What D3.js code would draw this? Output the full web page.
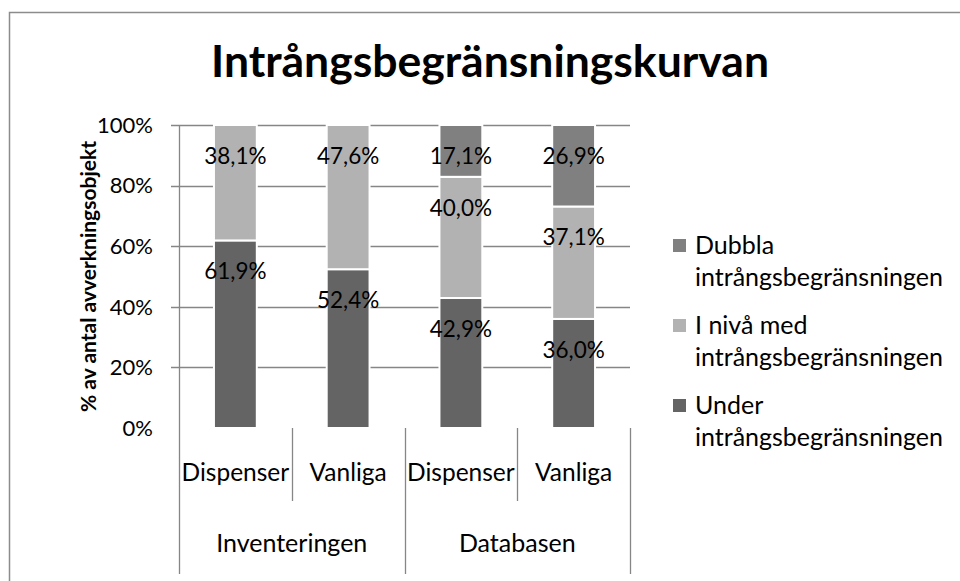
<!DOCTYPE html>
<html>
<head>
<meta charset="utf-8">
<script src="https://cdn.jsdelivr.net/npm/d3@7"></script>
<style>
  body { margin: 0; background: #fff; }
  svg text { font-family: Lato, 'Open Sans', sans-serif; fill: #000; }
</style>
</head>
<body>
<div id="chart"></div>
<script>
const groups = ['Inventeringen', 'Databasen'];
const categories = ['Dispenser', 'Vanliga', 'Dispenser', 'Vanliga'];
const categoryGroup = [0, 0, 1, 1];
const under = [61.9, 52.4, 42.9, 36.0];
const iNiva = [38.1, 47.6, 40.0, 37.1];
const dubbla = [0, 0, 17.1, 26.9];
const legendLines = [['Dubbla', 'intrångsbegränsningen'], ['I nivå med', 'intrångsbegränsningen'], ['Under', 'intrångsbegränsningen']];
const yTicks = [0, 20, 40, 60, 80, 100];

const width = 960;
const height = 581;
const plot = {left: 179, right: 630, top: 125, bottom: 428};
const colors = ['#646464', '#b2b2b2', '#808080'];
const grid = '#868686';

const svg = d3.select('#chart')
    .append('svg')
    .attr('width', width)
    .attr('height', height);

// outer chart border (only top and left are visible in the crop)
svg.append('path')
    .attr('d', 'M9.5,' + height + 'V12.5H' + width)
    .attr('fill', 'none')
    .attr('stroke', '#8c8c8c')
    .attr('stroke-width', 1.5);

svg.append('text')
    .attr('x', 490)
    .attr('y', 77)
    .attr('text-anchor', 'middle')
    .style('font-weight', 700)
    .style('font-size', '44.5px')
    .text('Intrångsbegränsningskurvan');

const keys = categories.map((c, i) => i);
const x = d3.scaleBand()
    .domain(keys)
    .range([plot.left, plot.right]);
const y = d3.scaleLinear()
    .domain([0, 100])
    .range([plot.bottom, plot.top]);

const barWidth = x.bandwidth() * 0.38;

// gridlines + y ticks
svg.append('g')
    .selectAll('line')
    .data(yTicks)
    .enter()
    .append('line')
    .attr('x1', plot.left - 8)
    .attr('x2', d => d === 0 ? plot.left - 8 : plot.right)
    .attr('y1', d => Math.round(y(d)) + 0.5)
    .attr('y2', d => Math.round(y(d)) + 0.5)
    .attr('stroke', grid)
    .attr('stroke-width', 1.3);

svg.append('g')
    .selectAll('text')
    .data(yTicks)
    .enter()
    .append('text')
    .attr('x', plot.left - 26)
    .attr('y', d => y(d))
    .attr('dy', '0.35em')
    .attr('text-anchor', 'end')
    .style('font-size', '22px')
    .text(d => d + '%');

svg.append('text')
    .attr('transform', 'translate(89,' + ((plot.top + plot.bottom) / 2) + ') rotate(-90)')
    .attr('text-anchor', 'middle')
    .attr('dy', '0.35em')
    .style('font-weight', 700)
    .style('font-size', '21px')
    .text('% av antal avverkningsobjekt');

// stacked bars
const rows = keys.map(i => ({key: i, s0: under[i], s1: iNiva[i], s2: dubbla[i]}));
const stack = d3.stack().keys(['s0', 's1', 's2']);
const layers = stack(rows);

const layer = svg.append('g')
    .selectAll('g')
    .data(layers)
    .enter()
    .append('g')
    .attr('fill', (d, i) => colors[i]);

layer.selectAll('rect')
    .data(d => d.filter(p => p[1] - p[0] > 0))
    .enter()
    .append('rect')
    .attr('x', d => x(d.data.key) + (x.bandwidth() - barWidth) / 2)
    .attr('y', d => y(d[1]))
    .attr('width', barWidth)
    .attr('height', d => y(d[0]) - y(d[1]))
    .attr('stroke', '#fff')
    .attr('stroke-width', 2);

layer.selectAll('text')
    .data(d => d.filter(p => p[1] - p[0] > 0))
    .enter()
    .append('text')
    .attr('x', d => x(d.data.key) + x.bandwidth() / 2)
    .attr('y', d => y(d[1]) + 31)
    .attr('dy', '0.35em')
    .attr('text-anchor', 'middle')
    .style('font-size', '22.5px')
    .text(d => d3.format('.1f')(d[1] - d[0]).replace('.', ',') + '%');

// axes lines
const axis = svg.append('g').attr('stroke', grid).attr('stroke-width', 1.3);
axis.append('line')
    .attr('x1', plot.left + 0.5).attr('x2', plot.left + 0.5)
    .attr('y1', plot.top).attr('y2', 574);
keys.forEach(i => {
  const xr = x(i) + x.bandwidth();
  const lastInGroup = i === keys.length - 1 || categoryGroup[i + 1] !== categoryGroup[i];
  axis.append('line')
      .attr('x1', Math.round(xr) + 0.5).attr('x2', Math.round(xr) + 0.5)
      .attr('y1', plot.bottom).attr('y2', lastInGroup ? 574 : 501);
});

svg.append('g')
    .selectAll('text')
    .data(keys)
    .enter()
    .append('text')
    .attr('x', d => x(d) + x.bandwidth() / 2)
    .attr('y', 472)
    .attr('dy', '0.35em')
    .attr('text-anchor', 'middle')
    .style('font-size', '24.5px')
    .text(d => categories[d]);

svg.append('g')
    .selectAll('text')
    .data(groups)
    .enter()
    .append('text')
    .attr('x', (g, gi) => {
      const members = keys.filter(i => categoryGroup[i] === gi);
      return (x(members[0]) + x(members[members.length - 1]) + x.bandwidth()) / 2;
    })
    .attr('y', 543)
    .attr('dy', '0.35em')
    .attr('text-anchor', 'middle')
    .style('font-size', '25px')
    .text(d => d);

// legend
const legendColors = [colors[2], colors[1], colors[0]];
const legend = svg.selectAll('.legend')
    .data(legendLines)
    .enter()
    .append('g')
    .attr('class', 'legend')
    .attr('transform', (d, i) => 'translate(673,' + (245 + i * 80) + ')');

legend.append('rect')
    .attr('x', 0)
    .attr('y', -6)
    .attr('width', 13)
    .attr('height', 13)
    .attr('fill', (d, i) => legendColors[i]);

legend.append('text')
    .style('font-size', '25px')
    .selectAll('tspan')
    .data(d => d)
    .enter()
    .append('tspan')
    .attr('x', 22)
    .attr('y', (d, i) => i * 32)
    .attr('dy', '0.35em')
    .text(d => d);
</script>
</body>
</html>
